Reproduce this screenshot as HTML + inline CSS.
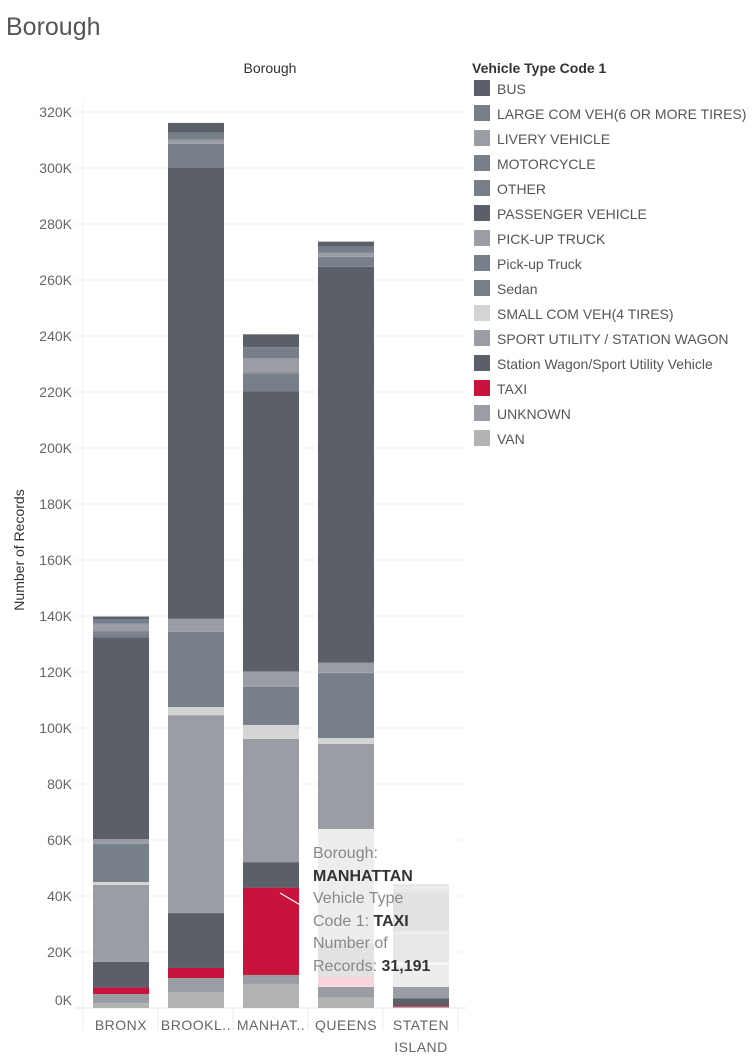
<!DOCTYPE html>
<html><head><meta charset="utf-8"><style>
body{margin:0;background:#fff;width:756px;height:1059px;overflow:hidden;font-family:"Liberation Sans",sans-serif;}
svg text{font-family:"Liberation Sans",sans-serif;}
</style></head><body>
<svg id="chart" width="756" height="1059">
<text x="6" y="35" font-size="25" fill="#555">Borough</text>
<text x="270" y="73" font-size="14" fill="#333" text-anchor="middle">Borough</text>
<text transform="translate(24,550) rotate(-90)" font-size="14" fill="#333" text-anchor="middle">Number of Records</text>
<g id="grid"></g><g id="bars"></g><g id="xaxis"></g><g id="legend"></g>
<g>
<line x1="280" y1="893" x2="302" y2="906" stroke="#fff" stroke-width="1.2"/>
<rect x="302" y="829" width="155" height="158" fill="#fff" fill-opacity="0.82"/>
<text font-size="16" fill="#888">
<tspan x="313" y="858">Borough:</tspan>
<tspan x="313" y="881" fill="#333" font-weight="bold">MANHATTAN</tspan>
<tspan x="313" y="903">Vehicle Type</tspan>
<tspan x="313" y="926">Code 1: <tspan fill="#333" font-weight="bold">TAXI</tspan></tspan>
<tspan x="313" y="948">Number of</tspan>
<tspan x="313" y="971">Records: <tspan fill="#333" font-weight="bold">31,191</tspan></tspan>
</text></g>
</svg>
<script>
const boroughs=["BRONX","BROOKL..","MANHAT..","QUEENS","STATEN|ISLAND"];
const types=["BUS","LARGE COM VEH(6 OR MORE TIRES)","LIVERY VEHICLE","MOTORCYCLE","OTHER","PASSENGER VEHICLE","PICK-UP TRUCK","Pick-up Truck","Sedan","SMALL COM VEH(4 TIRES)","SPORT UTILITY / STATION WAGON","Station Wagon/Sport Utility Vehicle","TAXI","UNKNOWN","VAN"];
const colors=["#5b5f68","#777f8b","#9a9da3","#777f8b","#777f8b","#5b5f68","#9a9da3","#777f8b","#777f8b","#d4d4d4","#9a9da3","#5b5f68","#c8143c","#9a9da3","#b1b3b3"];
// values in thousands, per type (legend order), per borough
const vBUS=[1.0,3.5,4.6,1.8,0.5];
const vLARGE=[1.5,2.5,4.0,2.2,0.5];
const vLIVERY=[2.7,1.4,5.0,1.4,0.5];
const vMOTO=[0.8,0.1,0.3,0.1,0.2];
const vOTHER=[1.5,8.6,6.5,3.5,1.0];
const vPASS=[72,161,100,141.4,14];
const vPICKUP=[1.6,4.6,5.4,3.6,1.0];
const vPickup=[0.1,0.1,0.1,0.1,0.1];
const vSedan=[13.6,26.8,13.6,23.2,10];
const vSMALL=[1.0,2.9,5.0,2.1,1.0];
const vSUV=[27.5,70.7,44,71.1,12];
const vSW=[9.2,19.6,9.1,12,2.5];
const vTAXI=[2.3,3.6,31.2,3.6,0.4];
const vUNK=[3.3,5.0,3.2,3.9,0.3];
const vVAN=[1.7,5.7,8.6,3.7,0.2];
const series=[vBUS,vLARGE,vLIVERY,vMOTO,vOTHER,vPASS,vPICKUP,vPickup,vSedan,vSMALL,vSUV,vSW,vTAXI,vUNK,vVAN];
const yTicks=[0,20,40,60,80,100,120,140,160,180,200,220,240,260,280,300,320];

const NS="http://www.w3.org/2000/svg";
const base=1008, k=2.8, x0=83, step=75, bw=56;
const y=v=>base-v*k;
const xb=i=>x0+10+i*step;
function mk(tag,attrs,parent){const e=document.createElementNS(NS,tag);for(const a in attrs)e.setAttribute(a,attrs[a]);parent.appendChild(e);return e;}
const grid=document.getElementById('grid');
yTicks.forEach(t=>{
  const l=mk('line',{x1:75,x2:466,y1:y(t),y2:y(t),stroke:t===0?'#e6e6e6':'#f0f0f0','stroke-width':1},grid);
  
  
  const tx=mk('text',{x:72,y:(t===0?y(t)-3:y(t)+5),'font-size':14,fill:'#666','text-anchor':'end'},grid);
  tx.textContent=t+'K';
  
  
});
mk('line',{x1:x0,x2:x0,y1:100,y2:base,stroke:'#f0f0f0'},grid);
const bars=document.getElementById('bars');
boroughs.forEach((b,i)=>{
  let cum=0;
  for(let s=series.length-1;s>=0;s--){
    const v=series[s][i];
    const r=mk('rect',{x:xb(i),y:y(cum+v),width:bw,height:v*k,fill:colors[s]},bars);
    
    
    cum+=v;
  }
});
const xa=document.getElementById('xaxis');
for(let i=0;i<=boroughs.length;i++){mk('line',{x1:x0+i*step,x2:x0+i*step,y1:base,y2:base+22,stroke:'#eee'},xa);}
boroughs.forEach((b,i)=>{
  const parts=b.split('|');
  parts.forEach((p,j)=>{
    const t=mk('text',{x:xb(i)+bw/2,y:1030+j*22,'font-size':14,fill:'#666','text-anchor':'middle','letter-spacing':'0.5'},xa);
    t.textContent=p;
    
    
  });
});
const lg=document.getElementById('legend');
const lt=mk('text',{x:472,y:73,'font-size':14,fill:'#333','font-weight':'bold'},lg);
lt.textContent='Vehicle Type Code 1';


types.forEach((t,i)=>{
  const g=mk('g',{},lg);
  
  
  const yy=80+i*25;
  mk('rect',{x:474,y:yy,width:16,height:16,fill:colors[i]},g);
  const tx=mk('text',{x:497,y:yy+14,'font-size':14,fill:'#555'},g);
  tx.textContent=t;
});
</script>
</body></html>
